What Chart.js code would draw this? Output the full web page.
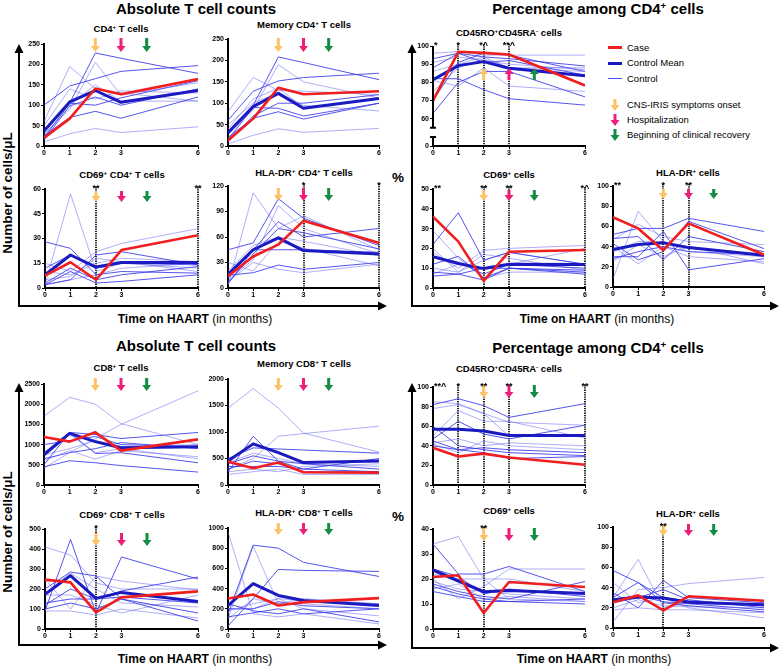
<!DOCTYPE html>
<html>
<head>
<meta charset="utf-8">
<script src="https://cdn.jsdelivr.net/npm/chart.js@4.4.1/dist/chart.umd.min.js"></script>
<style>
  body { margin: 0; background: #fff; }
  #page { position: relative; width: 780px; height: 666px; overflow: hidden; font-family: "Liberation Sans", Arial, sans-serif; color: #000; }
  #page canvas { position: absolute; }
  .c { position: absolute; white-space: nowrap; transform: translate(-50%, -50%); line-height: 1; }
  .h1 { font-size: 15px; font-weight: bold; }
  .h2 { font-size: 9.5px; font-weight: bold; }
  .ax { font-size: 12px; }
  .yl { font-size: 13.5px; font-weight: bold; transform: translate(-50%, -50%) rotate(-90deg); }
  sup { font-size: 0.65em; line-height: 0; vertical-align: 0.5em; }
  .lg { position: absolute; left: 627px; font-size: 9.5px; line-height: 1; transform: translateY(-50%); white-space: nowrap; }
  .sw { position: absolute; left: 608px; width: 14px; }
  svg { position: absolute; left: 0; top: 0; }
</style>
</head>
<body>
<div id="page">
  <svg width="780" height="666">
    <g stroke="#000" stroke-width="2" fill="none">
      <polyline points="19,52 19,306 379,306"/>
      <polyline points="412,52 412,306 771,306"/>
      <polyline points="19,391 19,645 379,645"/>
      <polyline points="412,391 412,648 771,648"/>
    </g>
    <g fill="#000">
      <polygon points="14.5,53 23.5,53 19,44"/>
      <polygon points="378,301.5 378,310.5 387,306"/>
      <polygon points="407.5,53 416.5,53 412,44"/>
      <polygon points="770,301.5 770,310.5 779,306"/>
      <polygon points="14.5,392 23.5,392 19,383"/>
      <polygon points="378,640.5 378,649.5 387,645"/>
      <polygon points="407.5,392 416.5,392 412,383"/>
      <polygon points="770,643.5 770,652.5 779,648"/>
    </g>
  </svg>

  <div class="c h1" style="left:196px;top:8px">Absolute T cell counts</div>
  <div class="c h1" style="left:598px;top:8px">Percentage among CD4<sup>+</sup> cells</div>
  <div class="c h1" style="left:196px;top:345px">Absolute T cell counts</div>
  <div class="c h1" style="left:598px;top:347px">Percentage among CD4<sup>+</sup> cells</div>

  <div class="c h2" style="left:121px;top:29px">CD4<sup>+</sup> T cells</div>
  <div class="c h2" style="left:304px;top:25px">Memory CD4<sup>+</sup> T cells</div>
  <div class="c h2" style="left:122px;top:175px">CD69<sup>+</sup> CD4<sup>+</sup> T cells</div>
  <div class="c h2" style="left:304px;top:173px">HLA-DR<sup>+</sup> CD4<sup>+</sup> T cells</div>
  <div class="c h2" style="left:509px;top:33px">CD45RO<sup>+</sup>CD45RA<sup>-</sup> cells</div>
  <div class="c h2" style="left:509px;top:175px">CD69<sup>+</sup> cells</div>
  <div class="c h2" style="left:688px;top:173px">HLA-DR<sup>+</sup> cells</div>
  <div class="c h2" style="left:121px;top:368px">CD8<sup>+</sup> T cells</div>
  <div class="c h2" style="left:304px;top:364px">Memory CD8<sup>+</sup> T cells</div>
  <div class="c h2" style="left:122px;top:515px">CD69<sup>+</sup> CD8<sup>+</sup> T cells</div>
  <div class="c h2" style="left:304px;top:513px">HLA-DR<sup>+</sup> CD8<sup>+</sup> T cells</div>
  <div class="c h2" style="left:509px;top:369px">CD45RO<sup>+</sup>CD45RA<sup>-</sup> cells</div>
  <div class="c h2" style="left:509px;top:511px">CD69<sup>+</sup> cells</div>
  <div class="c h2" style="left:688px;top:514px">HLA-DR<sup>+</sup> cells</div>

  <div class="c ax" style="left:195px;top:319px"><b>Time on HAART</b> (in months)</div>
  <div class="c ax" style="left:597px;top:319px"><b>Time on HAART</b> (in months)</div>
  <div class="c ax" style="left:195px;top:659px"><b>Time on HAART</b> (in months)</div>
  <div class="c ax" style="left:594px;top:659px"><b>Time on HAART</b> (in months)</div>

  <div class="c yl" style="left:8px;top:193px">Number of cells/μL</div>
  <div class="c yl" style="left:8px;top:532px">Number of cells/μL</div>
  <div class="c yl" style="left:398px;top:178px;transform:translate(-50%,-50%)">%</div>
  <div class="c yl" style="left:398px;top:517px;transform:translate(-50%,-50%)">%</div>

  <div class="sw" style="top:46px;height:3px;background:#f01e1e"></div>
  <div class="lg" style="top:48px">Case</div>
  <div class="sw" style="top:61.5px;height:3px;background:#1a1ac0"></div>
  <div class="lg" style="top:63px">Control Mean</div>
  <div class="sw" style="top:78px;height:1px;background:#4a4af0"></div>
  <div class="lg" style="top:79px">Control</div>
  <svg width="780" height="666" style="pointer-events:none">
    <g>
      <rect x="613.5" y="99" width="3" height="6" fill="#fdc265"/><polygon points="610.5,105 619.5,105 615,111" fill="#fdc265"/>
      <rect x="613.5" y="114" width="3" height="6" fill="#ee1e7b"/><polygon points="610.5,120 619.5,120 615,126" fill="#ee1e7b"/>
      <rect x="613.5" y="129" width="3" height="6" fill="#138c45"/><polygon points="610.5,135 619.5,135 615,141" fill="#138c45"/>
    </g>
  </svg>
  <div class="lg" style="top:105px">CNS-IRIS symptoms onset</div>
  <div class="lg" style="top:120px">Hospitalization</div>
  <div class="lg" style="top:135px">Beginning of clinical recovery</div>
</div>

<script>
const months = [0, 1, 2, 3, 6];
const eventMonths = [2, 3, 4];   // CNS-IRIS onset, hospitalization, clinical recovery
const eventColors = ['#fdc265', '#ee1e7b', '#138c45'];

// CD4 absolute counts
const cd4Ticks = [0, 50, 100, 150, 200, 250];
const cd4Case = [20, 67, 141, 127, 164];
const cd4Mean = [37, 108, 136, 107, 136];
const cd4Controls = [
  [10, 30, 43, 33, 47], [100, 147, 165, 183, 197], [60, 195, 140, 130, 110],
  [35, 105, 228, 215, 178], [30, 90, 205, 125, 155], [25, 70, 85, 68, 120],
  [50, 140, 115, 135, 130], [20, 105, 100, 118, 160], [25, 100, 150, 110, 110],
  [15, 98, 120, 100, 140]
];

const memCd4Ticks = [0, 50, 100, 150, 200, 250];
const memCd4Case = [13, 64, 136, 121, 128];
const memCd4Mean = [31, 92, 123, 88, 111];
const memCd4Controls = [
  [5, 25, 40, 32, 41], [60, 128, 152, 160, 170], [80, 160, 130, 128, 120],
  [30, 95, 208, 195, 155], [25, 85, 190, 150, 112], [20, 65, 80, 63, 100],
  [50, 100, 125, 95, 82], [10, 70, 100, 100, 120], [40, 110, 135, 90, 110],
  [15, 90, 88, 70, 100]
];

const cd69Cd4Ticks = [0, 15, 30, 45, 60];
const cd69Cd4Case = [7.5, 15.6, 5, 23, 32];
const cd69Cd4Mean = [8, 20, 12.7, 15.4, 15.4];
const cd69Cd4Controls = [
  [2, 57, 10, 15, 12], [28, 24, 8, 10, 9], [15, 10, 22, 27, 36],
  [2, 5, 20, 22, 14], [10, 8, 15, 18, 16], [3, 12, 5, 8, 13],
  [2, 5, 8, 12, 15], [2, 10, 3, 4, 8], [5, 7, 18, 16, 10], [12, 20, 12, 15, 14]
];

const hlaCd4Ticks = [0, 30, 60, 90, 120];
const hlaCd4Case = [14, 37, 51, 79, 53];
const hlaCd4Mean = [16, 45, 59, 44, 40];
const hlaCd4Controls = [
  [3, 112, 70, 85, 45], [45, 53, 105, 82, 50], [10, 33, 97, 70, 40],
  [5, 45, 78, 60, 70], [30, 20, 55, 47, 26], [15, 18, 27, 22, 30],
  [8, 30, 22, 18, 28], [12, 45, 45, 45, 42], [20, 50, 60, 55, 38], [6, 40, 70, 65, 46]
];

// CD4 percentages
const memPct4Ticks = [0, 60, 70, 80, 90, 100];
const memPct4Case = [70, 96.8, 96.2, 95.3, 78.3];
const memPct4Mean = [81.5, 89.2, 91.4, 87.8, 83.7];
const memPct4Controls = [
  [96, 97, 95, 95, 95], [93, 96, 94, 93, 89], [91, 94, 92, 90, 87],
  [82, 82, 76, 71, 67.5], [81, 78, 88, 78, 75], [63, 80, 86, 86, 72],
  [86, 90, 94, 88, 86], [88, 96, 91, 92, 84], [75, 88, 93, 88, 88], [70, 91, 96, 95, 86]
];

const cd69Pct4Ticks = [0, 10, 20, 30, 40, 50];
const cd69Pct4Case = [36, 23.4, 3.6, 18.3, 19.2];
const cd69Pct4Mean = [15.8, 12.4, 9.8, 12, 11.9];
const cd69Pct4Controls = [
  [29, 15, 5, 8, 8], [22, 38, 14, 18, 12], [18, 10, 19, 20, 21.5],
  [16, 13, 7, 12, 10], [10, 8, 17, 15, 9], [8, 7, 4, 10, 7],
  [7, 12, 10, 12, 20], [12, 16, 5, 10, 9], [20, 8, 14, 18, 12], [6, 7, 10, 10, 8]
];

const hlaPct4Ticks = [0, 20, 40, 60, 80, 100];
const hlaPct4Case = [69, 58, 36.4, 63, 32];
const hlaPct4Mean = [37, 42, 43.7, 39, 31.5];
const hlaPct4Controls = [
  [8, 75, 45, 35, 30], [52, 58, 58, 68, 55], [47, 62, 50, 45, 42],
  [43, 27, 35, 65, 38], [40, 23, 40, 30, 25], [30, 30, 55, 17, 28],
  [25, 42, 30, 40, 23], [48, 50, 27, 50, 35], [35, 45, 45, 40, 30], [28, 35, 40, 35, 32]
];

// CD8 absolute counts
const cd8Ticks = [0, 500, 1000, 1500, 2000, 2500];
const cd8Case = [1188, 1073, 1304, 850, 1130];
const cd8Mean = [750, 1279, 1073, 924, 949];
const cd8Controls = [
  [1700, 2170, 2000, 1520, 1000], [450, 600, 550, 480, 320], [420, 800, 1150, 1500, 2330],
  [800, 1300, 1250, 1150, 1300], [700, 1250, 800, 900, 650], [1000, 1100, 1200, 1000, 950],
  [600, 850, 640, 850, 700], [500, 1300, 780, 800, 550], [750, 900, 1100, 950, 1000],
  [650, 800, 900, 1050, 900]
];

const memCd8Ticks = [0, 500, 1000, 1500, 2000];
const memCd8Case = [442, 315, 423, 240, 233];
const memCd8Mean = [454, 776, 612, 423, 454];
const memCd8Controls = [
  [1450, 1820, 1450, 980, 620], [250, 920, 450, 300, 250], [300, 500, 920, 970, 1110],
  [500, 700, 680, 660, 600], [420, 600, 500, 400, 350], [350, 350, 350, 300, 500],
  [200, 250, 300, 200, 200], [300, 450, 400, 250, 250], [250, 300, 250, 350, 400],
  [400, 550, 450, 400, 300]
];

const cd69Cd8Ticks = [0, 100, 200, 300, 400, 500];
const cd69Cd8Case = [247, 233, 83, 158, 188];
const cd69Cd8Mean = [173, 267, 153, 183, 137];
const cd69Cd8Controls = [
  [410, 370, 230, 200, 200], [90, 448, 80, 360, 250], [250, 100, 265, 240, 195],
  [200, 285, 265, 150, 80], [180, 280, 200, 130, 110], [130, 150, 150, 190, 260],
  [90, 90, 70, 100, 55], [100, 130, 100, 150, 40], [170, 170, 120, 80, 170], [120, 200, 150, 160, 130]
];

const hlaCd8Ticks = [0, 200, 400, 600, 800, 1000];
const hlaCd8Case = [302, 342, 233, 266, 306];
const hlaCd8Mean = [233, 449, 332, 282, 233];
const hlaCd8Controls = [
  [960, 150, 120, 150, 50], [150, 830, 800, 660, 520], [100, 820, 250, 250, 200],
  [30, 300, 590, 580, 570], [200, 200, 300, 200, 130], [250, 180, 150, 200, 70],
  [180, 250, 300, 280, 250], [120, 160, 200, 150, 200], [100, 300, 250, 300, 250],
  [200, 200, 270, 230, 200]
];

// CD8 percentages
const memPct8Ticks = [0, 20, 40, 60, 80, 100];
const memPct8Case = [38, 29, 32, 28, 20.7];
const memPct8Mean = [57, 57, 55, 50.5, 50.5];
const memPct8Controls = [
  [85, 83, 73, 64, 61], [82, 88, 81, 69, 83], [50, 76, 65, 65, 48],
  [47, 65, 52, 47, 61], [43, 47, 40, 43, 40], [40, 36, 38, 36, 33],
  [42, 33, 45, 40, 36], [45, 36, 33, 27, 29], [78, 82, 73, 50, 50], [60, 40, 36, 33, 30]
];

const cd69Pct8Ticks = [0, 10, 20, 30, 40];
const cd69Pct8Case = [20.8, 21.5, 6.4, 18.8, 16.8];
const cd69Pct8Mean = [23.6, 19.2, 14.9, 15.4, 14.2];
const cd69Pct8Controls = [
  [34, 37, 20, 12, 11], [34, 22, 22, 25, 15], [20, 12, 17, 24, 24],
  [18, 15, 13, 12, 19], [16, 18, 12, 13, 11], [15, 13, 11, 11, 12],
  [22, 20, 20, 20, 15], [17, 14, 12, 11, 10], [19, 16, 15, 14, 12], [24, 21, 14, 16, 13]
];

const hlaPct8Ticks = [0, 20, 40, 60, 80, 100];
const hlaPct8Case = [25.4, 32.3, 17.5, 31.4, 27];
const hlaPct8Mean = [28, 30.7, 29.7, 25.4, 23];
const hlaPct8Controls = [
  [6, 38, 40, 44, 50], [57, 45, 25, 22, 16], [30, 68, 20, 25, 22],
  [35, 20, 47, 30, 25], [45, 25, 30, 20, 10], [25, 30, 38, 28, 20],
  [18, 20, 18, 18, 15], [30, 45, 30, 27, 22], [20, 28, 22, 21, 20], [28, 32, 26, 24, 18]
];

// panel layout: plot box [left, top, right, bottom] in page px, arrows [tailY, tipY] in page px
const panels = [
  { rect: [44, 44, 198, 146], ticks: cd4Ticks, caseV: cd4Case, mean: cd4Mean, controls: cd4Controls, arrows: [38, 52] },
  { rect: [228, 39, 379, 146], ticks: memCd4Ticks, caseV: memCd4Case, mean: memCd4Mean, controls: memCd4Controls, arrows: [38, 52] },
  { rect: [45, 189, 198, 288], ticks: cd69Cd4Ticks, caseV: cd69Cd4Case, mean: cd69Cd4Mean, controls: cd69Cd4Controls, arrows: [191, 202],
    dotted: [2, 6], stars: [[2, '**'], [6, '**']] },
  { rect: [228, 186, 379, 288], ticks: hlaCd4Ticks, caseV: hlaCd4Case, mean: hlaCd4Mean, controls: hlaCd4Controls, arrows: [188, 201],
    dotted: [3, 6], stars: [[3, '*'], [6, '*']] },
  { rect: [433, 46, 585, 146], ticks: memPct4Ticks, caseV: memPct4Case, mean: memPct4Mean, controls: memPct4Controls, arrows: [80, 68],
    broken: { at: 45, upper: 55, lower: 50 }, dotted: [1, 2, 3], stars: [[0, '*'], [1, '*'], [2, '*^'], [3, '**^']] },
  { rect: [433, 189, 585, 288], ticks: cd69Pct4Ticks, caseV: cd69Pct4Case, mean: cd69Pct4Mean, controls: cd69Pct4Controls, arrows: [190, 201],
    dotted: [2, 3, 6], stars: [[0, '**'], [2, '**'], [3, '**'], [6, '*^']] },
  { rect: [613, 186, 764, 287], ticks: hlaPct4Ticks, caseV: hlaPct4Case, mean: hlaPct4Mean, controls: hlaPct4Controls, arrows: [189, 199],
    dotted: [2, 3], stars: [[0, '**'], [2, '*'], [3, '**']] },
  { rect: [44, 384, 198, 485], ticks: cd8Ticks, caseV: cd8Case, mean: cd8Mean, controls: cd8Controls, arrows: [378, 391] },
  { rect: [228, 379, 379, 485], ticks: memCd8Ticks, caseV: memCd8Case, mean: memCd8Mean, controls: memCd8Controls, arrows: [378, 391] },
  { rect: [45, 529, 198, 629], ticks: cd69Cd8Ticks, caseV: cd69Cd8Case, mean: cd69Cd8Mean, controls: cd69Cd8Controls, arrows: [533, 546],
    dotted: [2], stars: [[2, '*']] },
  { rect: [228, 528, 379, 629], ticks: hlaCd8Ticks, caseV: hlaCd8Case, mean: hlaCd8Mean, controls: hlaCd8Controls, arrows: [523, 535] },
  { rect: [433, 387, 585, 485], ticks: memPct8Ticks, caseV: memPct8Case, mean: memPct8Mean, controls: memPct8Controls, arrows: [385, 398],
    dotted: [1, 2, 3, 6], stars: [[0, '**^'], [1, '*'], [2, '**'], [3, '**'], [6, '**']] },
  { rect: [433, 529, 585, 629], ticks: cd69Pct8Ticks, caseV: cd69Pct8Case, mean: cd69Pct8Mean, controls: cd69Pct8Controls, arrows: [528, 541],
    dotted: [2], stars: [[2, '**']] },
  { rect: [613, 527, 764, 628], ticks: hlaPct8Ticks, caseV: hlaPct8Case, mean: hlaPct8Mean, controls: hlaPct8Controls, arrows: [524, 536],
    dotted: [2], stars: [[2, '**']] }
];

const FONT = '"Liberation Sans", Arial, sans-serif';

function drawArrow(ctx, x, y0, y1, color) {
  const dir = y1 > y0 ? 1 : -1;
  const head = 6;
  ctx.fillStyle = color;
  ctx.fillRect(x - 1.5, Math.min(y0, y1 - dir * head), 3, Math.abs(y1 - dir * head - y0));
  ctx.beginPath();
  ctx.moveTo(x - 4.5, y1 - dir * head);
  ctx.lineTo(x + 4.5, y1 - dir * head);
  ctx.lineTo(x, y1);
  ctx.closePath();
  ctx.fill();
}

const marksPlugin = {
  id: 'marks',
  beforeDatasetsDraw(chart, args, o) {
    const { ctx, chartArea, scales: { x } } = chart;
    ctx.save();
    ctx.strokeStyle = '#000';
    ctx.lineWidth = 1.7;
    ctx.setLineDash([1.3, 1]);
    (o.dotted || []).forEach(v => {
      const px = Math.round(x.getPixelForValue(v));
      ctx.beginPath();
      ctx.moveTo(px, chartArea.top - 2);
      ctx.lineTo(px, chartArea.bottom);
      ctx.stroke();
    });
    ctx.restore();
  },
  afterDatasetsDraw(chart, args, o) {
    const { ctx, chartArea, scales: { x, y } } = chart;
    ctx.save();
    if (o.broken) {
      const ax = chartArea.left;
      const yUp = y.getPixelForValue(o.broken.upper);
      const yLo = y.getPixelForValue(o.broken.lower);
      ctx.strokeStyle = '#000';
      ctx.lineWidth = 2;
      ctx.beginPath();
      ctx.moveTo(ax, chartArea.top); ctx.lineTo(ax, yUp);
      ctx.moveTo(ax - 3, yUp); ctx.lineTo(ax + 3, yUp);
      ctx.moveTo(ax - 3, yLo); ctx.lineTo(ax + 3, yLo);
      ctx.moveTo(ax, yLo); ctx.lineTo(ax, chartArea.bottom);
      ctx.stroke();
    }
    if (o.arrows) {
      eventMonths.forEach((m, i) => {
        drawArrow(ctx, x.getPixelForValue(m), chartArea.top + o.arrows[0], chartArea.top + o.arrows[1], eventColors[i]);
      });
    }
    ctx.fillStyle = '#000';
    ctx.font = 'bold 9px ' + FONT;
    ctx.textBaseline = 'alphabetic';
    (o.stars || []).forEach(([v, t]) => {
      const px = x.getPixelForValue(v);
      ctx.textAlign = v === 0 ? 'left' : 'center';
      ctx.fillText(t, v === 0 ? px + 1 : px, chartArea.top + 1.5);
    });
    ctx.restore();
  }
};

const page = document.getElementById('page');
const pts = vals => vals.map((v, i) => ({ x: months[i], y: v }));

panels.forEach(p => {
  const [xl, yt, xr, yb] = p.rect;
  const padTop = 22, padRight = 9, yW = 30, xH = 14;
  const cv = document.createElement('canvas');
  cv.width = xr - xl + yW + padRight;
  cv.height = yb - yt + padTop + xH;
  cv.style.left = (xl - yW) + 'px';
  cv.style.top = (yt - padTop) + 'px';
  page.appendChild(cv);

  const yTicks = p.broken ? p.ticks.map(t => (t === 0 ? p.broken.at : t)) : p.ticks;
  const tickFont = { family: FONT, size: 7, weight: 'bold' };
  const grid = { drawOnChartArea: false, color: '#000', tickLength: 3, lineWidth: 1 };

  new Chart(cv, {
    type: 'line',
    data: {
      datasets: [
        { data: pts(p.caseV), borderColor: '#f01e1e', borderWidth: 2.6, order: 0 },
        { data: pts(p.mean), borderColor: '#1a1ac0', borderWidth: 3, order: 1 },
        ...p.controls.map((c, i) => ({
          data: pts(c),
          borderColor: i % 2 ? 'rgba(55,55,235,0.85)' : 'rgba(95,95,245,0.5)',
          borderWidth: 1,
          order: 2
        }))
      ]
    },
    options: {
      responsive: false,
      animation: false,
      events: [],
      layout: { padding: { top: padTop, right: padRight, left: 0, bottom: 0 } },
      elements: { point: { radius: 0 }, line: { tension: 0, borderJoinStyle: 'round' } },
      plugins: {
        legend: { display: false },
        tooltip: { enabled: false },
        marks: {
          dotted: p.dotted, stars: p.stars, broken: p.broken,
          arrows: [p.arrows[0] - yt, p.arrows[1] - yt]
        }
      },
      scales: {
        x: {
          type: 'linear', min: 0, max: 6,
          afterBuildTicks: s => { s.ticks = months.map(v => ({ value: v })); },
          afterFit: s => { s.height = xH; },
          grid, border: { color: '#000', width: 2 },
          ticks: { font: tickFont, color: '#000', padding: 0, maxRotation: 0 }
        },
        y: {
          min: yTicks[0], max: yTicks[yTicks.length - 1],
          afterBuildTicks: s => { s.ticks = yTicks.map(v => ({ value: v })); },
          afterFit: s => { s.width = yW; },
          grid, border: { display: !p.broken, color: '#000', width: 2 },
          ticks: {
            font: tickFont, color: '#000', padding: 1,
            callback: v => (p.broken && v === p.broken.at ? '0' : v)
          }
        }
      }
    },
    plugins: [marksPlugin]
  });
});
</script>
</body>
</html>
